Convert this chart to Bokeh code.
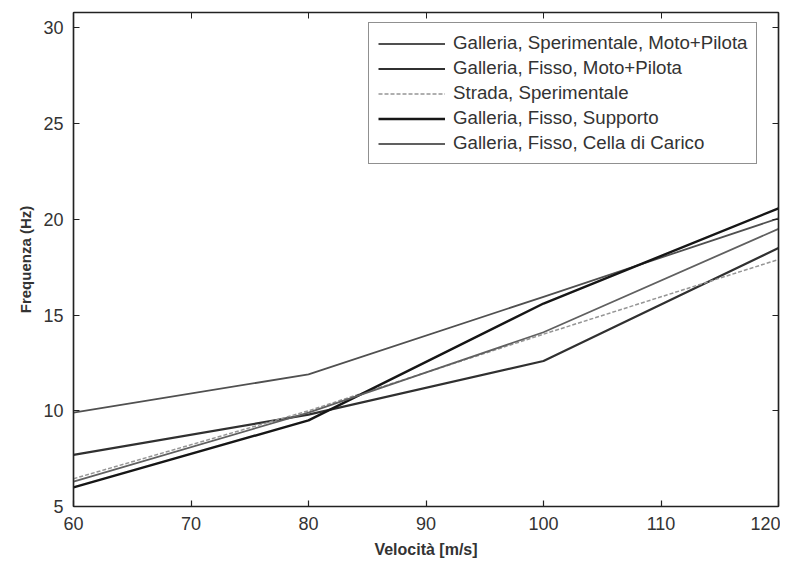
from bokeh.plotting import figure
from bokeh.models import Range1d, LinearAxis, FixedTicker, Legend, LegendItem, CustomJSTickFormatter
from bokeh.embed import file_html
from bokeh.resources import INLINE

# Data
velocita = [60, 80, 100, 120]
gall_sper_moto = [9.9, 11.9, 15.95, 20.05]
gall_fisso_moto = [7.7, 9.8, 12.6, 18.5]
strada_sper = [6.45, 10.0, 14.0, 17.9]
gall_fisso_supporto = [6.0, 9.5, 15.6, 20.57]
gall_fisso_cella = [6.3, 9.9, 14.1, 19.5]

series_names = [
    "Galleria, Sperimentale, Moto+Pilota",
    "Galleria, Fisso, Moto+Pilota",
    "Strada, Sperimentale",
    "Galleria, Fisso, Supporto",
    "Galleria, Fisso, Cella di Carico",
]
series_values = [gall_sper_moto, gall_fisso_moto, strada_sper, gall_fisso_supporto, gall_fisso_cella]
series_colors = ["#505050", "#303030", "#959595", "#161616", "#606060"]
series_widths = [1.8, 2.2, 1.5, 2.4, 1.8]
series_dash = ["solid", "solid", "4 2", "solid", "solid"]

x_ticks = [60, 70, 80, 90, 100, 110, 120]
y_ticks = [5, 10, 15, 20, 25, 30]

FONT = "Liberation Sans"
TXT = "#333333"

p = figure(
    frame_width=705, frame_height=494,
    x_range=Range1d(60, 120), y_range=Range1d(5, 30.8),
    output_backend="svg", toolbar_location=None,
    min_border_left=73, min_border_right=2, min_border_top=12, min_border_bottom=2,
)
p.grid.visible = False
p.outline_line_color = "#222222"
p.outline_line_width = 1.2
p.background_fill_color = "white"
p.border_fill_color = "white"

for ax, ticks in ((p.xaxis[0], x_ticks), (p.yaxis[0], y_ticks)):
    ax.ticker = FixedTicker(ticks=ticks)
    ax.major_tick_in = 6
    ax.major_tick_out = 0
    ax.minor_tick_line_color = None
    ax.axis_line_color = "#222222"
    ax.axis_line_width = 1.5
    ax.major_tick_line_color = "#222222"
    ax.major_tick_line_width = 1.2
    ax.major_label_text_font = FONT
    ax.major_label_text_font_size = "18px"
    ax.major_label_text_color = TXT
    ax.axis_label_text_font = FONT
    ax.axis_label_text_font_style = "bold"
    ax.axis_label_text_color = TXT

p.xaxis.axis_label = "Velocità [m/s]"
p.xaxis.axis_label_text_font_size = "16px"
p.xaxis.major_label_standoff = 10
p.xaxis.axis_label_standoff = 8
p.yaxis.axis_label = "Frequenza (Hz)"
p.yaxis.axis_label_text_font_size = "15px"
p.yaxis.major_label_standoff = 10
p.yaxis.axis_label_standoff = 6

empty = CustomJSTickFormatter(code="return ''")
top_ax = LinearAxis(ticker=FixedTicker(ticks=x_ticks), formatter=empty)
right_ax = LinearAxis(ticker=FixedTicker(ticks=y_ticks), formatter=empty)
for ax in (top_ax, right_ax):
    ax.major_tick_in = 6
    ax.major_tick_out = 0
    ax.minor_tick_line_color = None
    ax.axis_line_color = "#222222"
    ax.axis_line_width = 1.5
    ax.major_tick_line_color = "#222222"
    ax.major_label_standoff = 0
    ax.major_label_text_font_size = "1px"
p.add_layout(top_ax, "above")
p.add_layout(right_ax, "right")

items = []
for name, vals, col, w, d in zip(series_names, series_values, series_colors, series_widths, series_dash):
    r = p.line(velocita, vals, line_color=col, line_width=w, line_dash=d)
    items.append(LegendItem(label=name, renderers=[r]))

legend = Legend(items=items, location=(295, 342))
legend.label_text_font = FONT
legend.label_text_font_size = "18.7px"
legend.label_text_color = TXT
legend.glyph_width = 67
legend.label_standoff = 8
legend.label_height = 21
legend.glyph_height = 21
legend.spacing = 3
legend.padding = 9
legend.margin = 0
legend.border_line_color = "#222222"
legend.border_line_width = 1.2
legend.background_fill_alpha = 1.0
p.add_layout(legend, "center")

open("out.html", "w").write(file_html(p, INLINE))
